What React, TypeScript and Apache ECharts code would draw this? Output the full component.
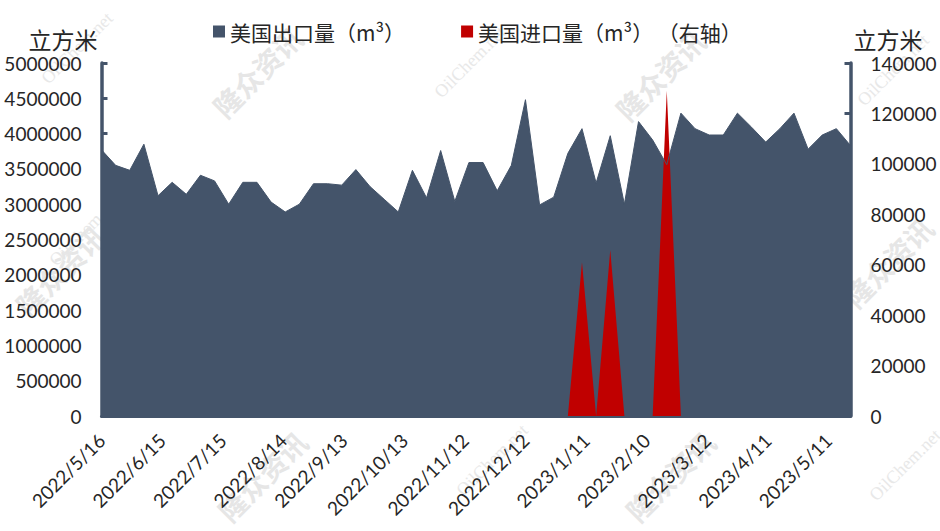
import React, { useEffect, useRef } from "react";
import * as echarts from "echarts";

// x position of every weekly reading, in days after 2022/5/16
const weekDays = [
  0, 7, 14, 21, 28, 35, 42, 49, 56, 63, 70, 77, 84, 91, 98, 105, 112, 119,
  126, 133, 140, 147, 154, 161, 168, 175, 182, 189, 196, 203, 210, 217, 224,
  231, 238, 245, 252, 259, 266, 273, 280, 287, 294, 301, 308, 315, 322, 329,
  336, 343, 350, 357, 364, 371,
];

const exportValues = [
  3770000, 3550000, 3480000, 3850000, 3120000, 3310000, 3140000, 3410000,
  3330000, 3000000, 3310000, 3310000, 3030000, 2890000, 3000000, 3290000,
  3290000, 3270000, 3490000, 3250000, 3070000, 2890000, 3480000, 3090000,
  3760000, 3040000, 3590000, 3590000, 3190000, 3550000, 4480000, 2990000,
  3100000, 3720000, 4070000, 3300000, 3970000, 3000000, 4170000, 3910000,
  3560000, 4290000, 4070000, 3980000, 3980000, 4290000, 4090000, 3880000,
  4070000, 4290000, 3780000, 3980000, 4070000, 3830000,
];

const importValues = [
  null, null, null, null, null, null, null, null, null, null, null, null,
  null, null, null, null, null, null, null, null, null, null, null, null,
  null, null, null, null, null, null, null, null, null, 0, 61000, 0, 65800,
  0, null, 0, 129000, 0, null, null, null, null, null, null, null, null,
  null, null, null, null,
];

const dateLabels = [
  "2022/5/16", "2022/6/15", "2022/7/15", "2022/8/14", "2022/9/13",
  "2022/10/13", "2022/11/12", "2022/12/12", "2023/1/11", "2023/2/10",
  "2023/3/12", "2023/4/11", "2023/5/11",
];

const exportName = "美国出口量（m³）";
const importName = "美国进口量（m³） （右轴）";

const bigMarks = [
  [257, 72], [660, 75], [60, 270], [262, 476], [670, 476], [888, 262],
];
const smallMarks = [
  [77, 48], [470, 62], [893, 70], [905, 465], [492, 460], [85, 230],
];

const navy = "#44546a";
const red = "#c00000";
const labelFont = "Lato";
const cjkFont = "Noto Sans CJK SC";

const App: React.FC = () => {
  const chartRef = useRef<HTMLDivElement>(null);

  useEffect(() => {
    if (!chartRef.current) return;
    document.body.style.margin = "0";

    const myChart = echarts.init(chartRef.current, null, { renderer: "svg" });

    const axisLabel = {
      color: "#262626",
      fontSize: 19,
      fontFamily: labelFont,
      margin: 20,
      formatter: (v: number) => String(v),
    };
    const axisLine = { show: true, lineStyle: { color: navy, width: 3.5 } };
    const axisTick = { show: true, inside: true, length: 6, lineStyle: { color: navy, width: 3 } };
    const nameTextStyle = { color: "#262626", fontSize: 23, fontFamily: cjkFont };

    const options = {
      animation: false,
      backgroundColor: "#ffffff",
      grid: { left: 101.5, right: 89.5, top: 63, bottom: 115, outerBoundsMode: "none" },
      legend: {
        left: 208,
        top: 16,
        itemWidth: 12,
        itemHeight: 12,
        itemGap: 56,
        icon: "rect",
        data: [exportName, importName],
        textStyle: { color: "#262626", fontSize: 21, fontFamily: cjkFont },
      },
      graphic: {
        elements: [
          ...bigMarks.map(([x, y]) => ({
            type: "text",
            x,
            y,
            rotation: Math.PI / 4,
            silent: true,
            style: {
              text: "隆众资讯",
              fill: "#e6e6e6",
              font: `bold 28px "${cjkFont}"`,
              textAlign: "center",
              textVerticalAlign: "middle",
            },
          })),
          ...smallMarks.map(([x, y]) => ({
            type: "text",
            x,
            y,
            rotation: Math.PI / 4,
            silent: true,
            style: {
              text: "OilChem.net",
              fill: "#e8e8e8",
              font: '18px "Liberation Serif"',
              textAlign: "center",
              textVerticalAlign: "middle",
            },
          })),
        ],
      },
      xAxis: {
        type: "value",
        min: 0,
        max: weekDays[weekDays.length - 1],
        interval: 30,
        splitLine: { show: false },
        axisTick: { show: false },
        axisLine: { onZero: false, lineStyle: { color: navy, width: 3 }, show: true },
        axisLabel: {
          ...axisLabel,
          margin: 21,
          rotate: 45,
          fontSize: 19,
          showMaxLabel: false,
          formatter: (v: number) => dateLabels[v / 30] ?? "",
        },
      },
      yAxis: [
        {
          type: "value",
          min: 0,
          max: 5000000,
          interval: 500000,
          name: "立方米",
          nameGap: 13,
          nameTextStyle: { ...nameTextStyle, align: "right", padding: [0, 4, 0, 0] },
          splitLine: { show: false },
          axisLine,
          axisTick,
          axisLabel,
        },
        {
          type: "value",
          position: "right",
          min: 0,
          max: 140000,
          interval: 20000,
          name: "立方米",
          nameGap: 13,
          nameTextStyle: { ...nameTextStyle, align: "left", padding: [0, 0, 0, 3] },
          splitLine: { show: false },
          axisLine,
          axisTick,
          axisLabel,
        },
      ],
      series: [
        {
          name: exportName,
          type: "line",
          showSymbol: false,
          itemStyle: { color: navy },
          lineStyle: { color: navy, width: 1 },
          areaStyle: { color: navy, opacity: 1 },
          data: weekDays.map((d, i) => [d, exportValues[i]]),
        },
        {
          name: importName,
          type: "line",
          yAxisIndex: 1,
          showSymbol: false,
          itemStyle: { color: red },
          lineStyle: { width: 0 },
          areaStyle: { color: red, opacity: 1 },
          data: weekDays.map((d, i) => [d, importValues[i]]),
        },
      ],
    };

    myChart.setOption(options);

    return () => {
      myChart.dispose();
    };
  }, []);

  return <div ref={chartRef} style={{ width: "940px", height: "531px" }} />;
};

export default App;
